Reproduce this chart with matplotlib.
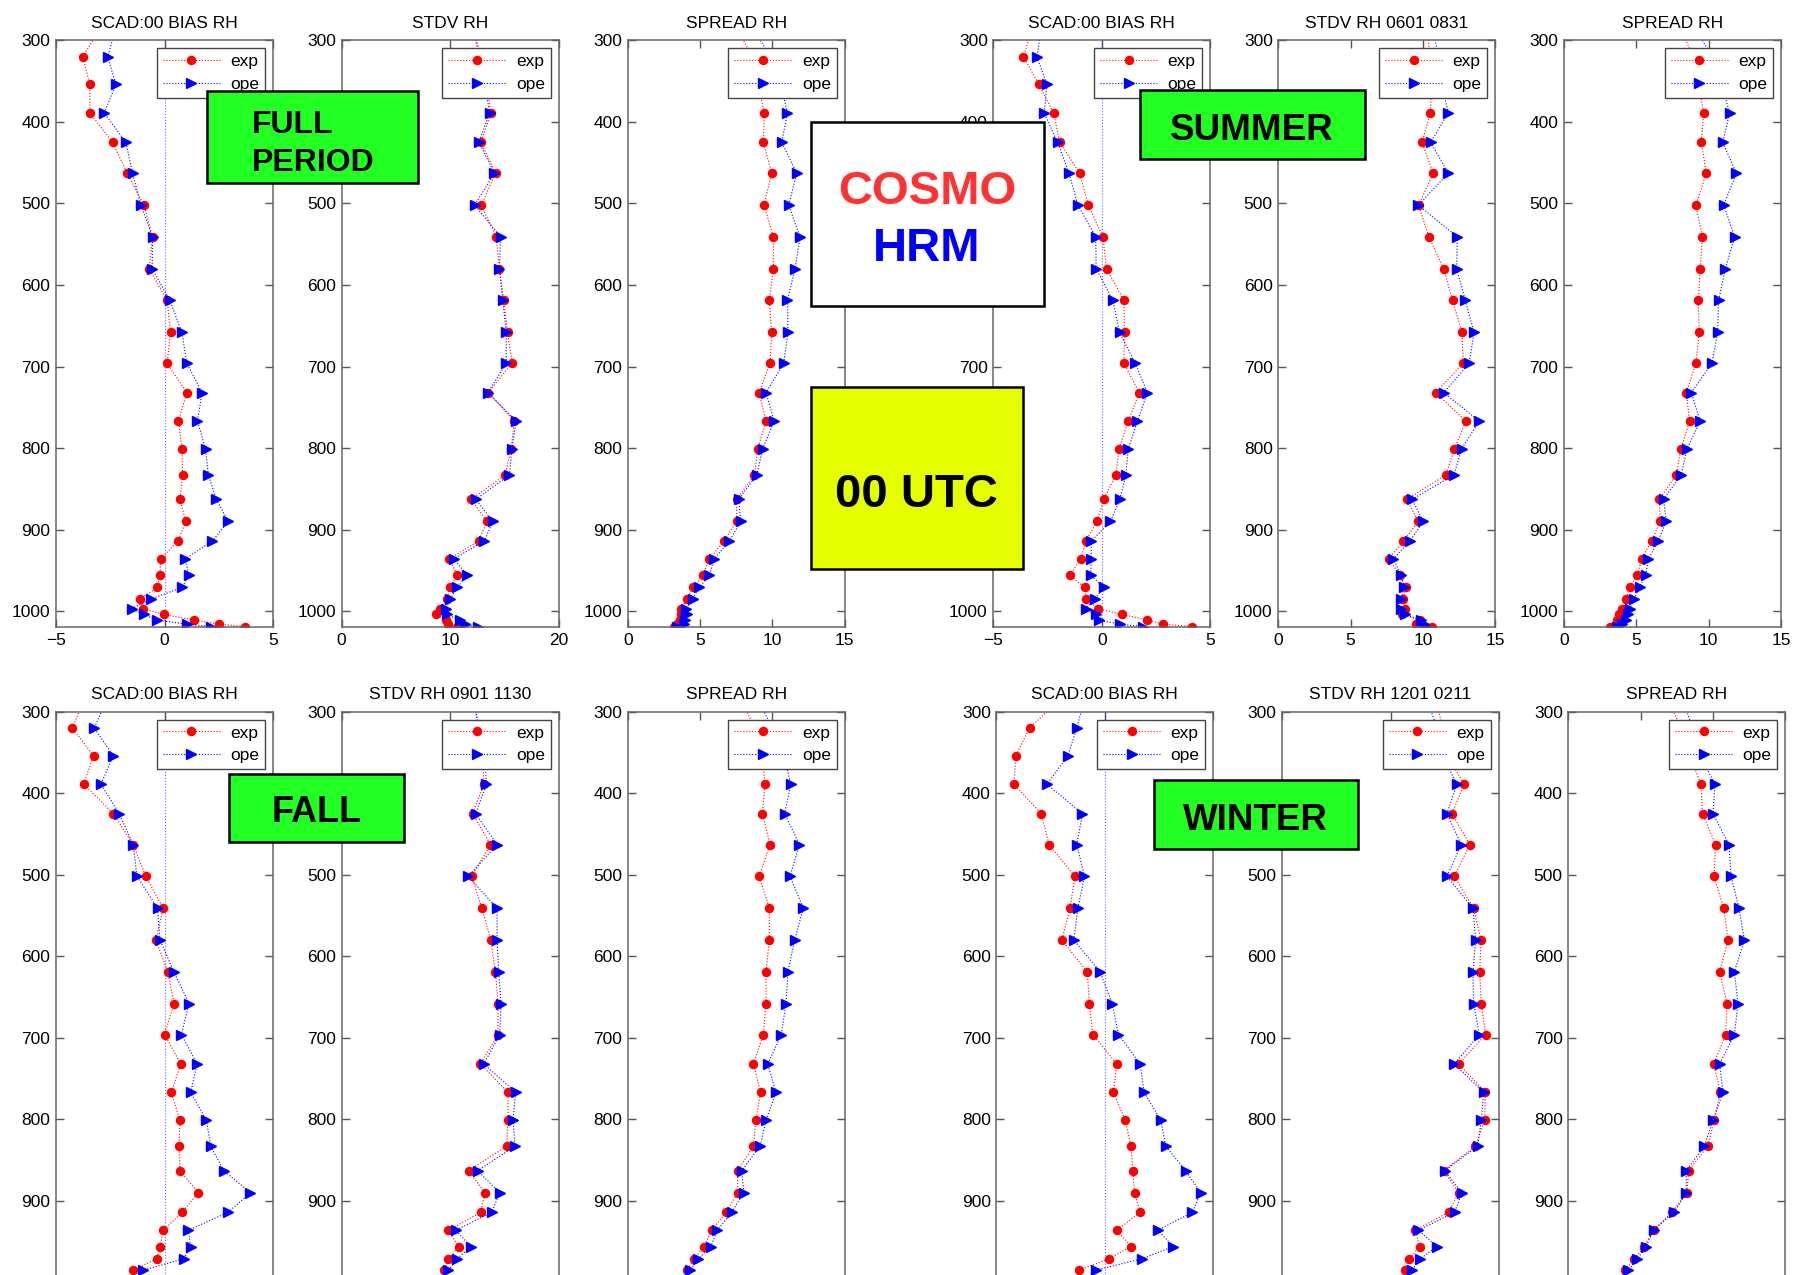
import matplotlib
matplotlib.use('Agg')
import matplotlib.pyplot as plt
from matplotlib.patches import Rectangle

plt.rcParams['font.family'] = ['Liberation Sans', 'DejaVu Sans']

# pressure levels (hPa); the first one is above the plotted range
plev = [285, 320, 354, 389, 425, 463, 502, 541, 580, 619, 658, 696, 732, 767,
        801, 833, 863, 890, 914, 936, 956, 971, 985, 997, 1004, 1011, 1016, 1019]

# full period
bias_full_exp = [-2.95, -3.77, -3.44, -3.44, -2.39, -1.72, -0.95, -0.55, -0.71, 0.12, 0.28, 0.12, 1.03, 0.64,
                 0.81, 0.83, 0.71, 0.98, 0.63, -0.18, -0.21, -0.34, -1.12, -1.0, -0.03, 1.36, 2.53, 3.71]
bias_full_ope = [-2.24, -2.62, -2.24, -2.78, -1.78, -1.47, -1.09, -0.55, -0.57, 0.25, 0.80, 1.03, 1.73, 1.52,
                 1.89, 2.02, 2.39, 2.94, 2.21, 0.94, 1.13, 0.80, -0.60, -1.52, -0.95, -0.34, 1.03, 2.15]
stdv_full_exp = [12.2, 12.8, 13.3, 13.8, 12.85, 14.2, 12.88, 14.26, 14.56, 14.96, 15.3, 15.73, 13.5, 15.94,
                 15.63, 15.08, 11.94, 13.4, 12.64, 9.92, 10.69, 9.98, 9.74, 9.1, 8.7, 9.59, 9.77, 10.6]
stdv_full_ope = [12.1, 12.7, 13.2, 13.65, 12.67, 14.1, 12.27, 14.66, 14.56, 14.87, 15.18, 15.18, 13.5, 16.1,
                 15.7, 15.48, 12.37, 13.95, 13.16, 10.35, 11.6, 10.66, 10.03, 9.59, 9.68, 10.9, 11.36, 12.58]
sprd_full_exp = [7.55, 8.6, 9.0, 9.45, 9.38, 9.95, 9.42, 10.07, 10.07, 9.79, 9.95, 9.84, 9.08, 9.56,
                 8.99, 8.76, 7.53, 7.53, 6.66, 5.65, 5.18, 4.54, 4.08, 3.69, 3.66, 3.62, 3.43, 3.2]
sprd_full_ope = [8.6, 9.9, 10.6, 11.04, 10.65, 11.68, 11.13, 11.91, 11.57, 11.04, 11.08, 10.78, 9.56, 10.12,
                 9.33, 8.92, 7.67, 7.81, 7.03, 5.97, 5.65, 4.95, 4.49, 4.03, 4.08, 3.96, 3.89, 3.39]

# summer 0601-0831
bias_sum_exp = [-3.2, -3.61, -2.9, -2.22, -1.94, -1.02, -0.62, 0.05, 0.22, 1.02, 1.05, 1.02, 1.73, 1.22,
                0.79, 0.65, 0.09, -0.22, -0.74, -0.97, -1.48, -0.79, -0.74, -0.19, 0.94, 2.10, 2.84, 4.15]
bias_sum_ope = [-2.78, -2.99, -2.53, -2.65, -2.04, -1.51, -1.10, -0.28, -0.26, 0.51, 0.82, 1.54, 2.10, 1.64,
                1.22, 1.11, 0.83, 0.40, -0.48, -0.49, -0.51, 0.09, -0.32, -0.74, -0.28, -0.14, 0.83, 1.91]
stdv_sum_exp = [10.27, 10.5, 10.6, 10.51, 9.93, 10.71, 9.7, 10.41, 11.43, 12.05, 12.7, 12.79, 10.88, 12.97,
                12.17, 11.59, 8.87, 9.68, 8.64, 7.63, 8.41, 8.8, 8.64, 8.73, 8.55, 9.79, 9.52, 10.6]
stdv_sum_ope = [10.65, 11.1, 11.3, 11.75, 10.53, 11.75, 9.68, 12.37, 12.33, 12.93, 13.53, 13.2, 11.43, 13.89,
                12.67, 12.14, 9.24, 10.02, 9.1, 7.95, 8.5, 8.69, 8.5, 8.5, 8.76, 9.84, 10.07, 10.21]
sprd_sum_exp = [8.1, 8.9, 9.3, 9.65, 9.49, 9.84, 9.12, 9.56, 9.42, 9.28, 9.35, 9.12, 8.45, 8.68,
                8.08, 7.76, 6.58, 6.65, 6.05, 5.36, 5.08, 4.53, 4.3, 4.0, 3.77, 3.65, 3.56, 3.19]
sprd_sum_ope = [9.0, 10.3, 10.9, 11.45, 10.97, 11.92, 11.04, 11.8, 11.15, 10.69, 10.62, 10.23, 8.8, 9.42,
                8.5, 8.1, 6.88, 7.07, 6.51, 5.84, 5.64, 5.22, 4.85, 4.53, 4.39, 4.3, 4.02, 3.65]

# fall 0901-1130 (down to 985 hPa)
bias_fall_exp = [-3.7, -4.25, -3.27, -3.73, -2.36, -1.44, -0.86, -0.06, -0.4, 0.15, 0.44, 0.0, 0.75, 0.31,
                 0.71, 0.67, 0.71, 1.56, 0.81, -0.05, -0.21, -0.35, -1.44]
bias_fall_ope = [-2.65, -3.24, -2.36, -2.93, -2.09, -1.44, -1.27, -0.32, -0.21, 0.43, 1.13, 0.78, 1.5, 1.21,
                 1.93, 2.13, 2.73, 3.96, 2.93, 1.1, 1.2, 0.89, -0.98]
stdv_fall_exp = [12.15, 12.6, 13.0, 13.1, 12.06, 13.71, 11.97, 12.92, 13.74, 14.17, 14.41, 14.41, 12.79, 15.33,
                 15.33, 15.21, 11.69, 13.19, 12.82, 9.83, 10.78, 9.83, 9.47]
stdv_fall_ope = [12.1, 12.7, 13.2, 13.34, 12.34, 14.32, 11.66, 14.32, 14.32, 14.47, 14.69, 14.56, 13.1, 16.03,
                 15.79, 15.97, 12.52, 14.56, 13.83, 10.5, 11.91, 10.66, 9.83]
sprd_fall_exp = [7.8, 8.8, 9.3, 9.49, 9.31, 9.84, 9.08, 9.79, 9.79, 9.56, 9.56, 9.38, 8.69, 9.19,
                 8.85, 8.69, 7.6, 7.6, 6.8, 5.81, 5.28, 4.61, 4.08]
sprd_fall_ope = [9.0, 10.0, 10.8, 11.27, 10.85, 11.87, 11.22, 12.14, 11.54, 11.08, 10.94, 10.62, 9.68, 10.25,
                 9.56, 9.15, 7.88, 8.02, 7.19, 6.2, 5.74, 4.88, 4.31]

# winter 1201-0211 (down to 985 hPa)
bias_win_exp = [-2.07, -3.47, -4.1, -4.18, -2.93, -2.57, -1.38, -1.6, -1.98, -0.81, -0.71, -0.55, 0.55, 0.4,
                0.94, 1.21, 1.29, 1.37, 1.63, 0.55, 1.21, 0.2, -1.2]
bias_win_ope = [-0.94, -1.29, -1.7, -2.67, -1.03, -1.29, -0.94, -1.24, -1.43, -0.22, 0.34, 0.63, 1.63, 1.81,
                2.58, 2.81, 3.73, 4.42, 4.04, 2.44, 3.16, 1.71, -0.41]
stdv_win_exp = [14.2, 14.8, 15.2, 16.8, 15.66, 17.32, 15.88, 17.66, 18.34, 18.22, 18.37, 18.77, 16.28, 18.74,
                18.68, 17.82, 14.89, 16.28, 15.35, 12.28, 12.68, 11.75, 11.35]
stdv_win_ope = [13.35, 14.3, 14.8, 16.12, 15.2, 16.52, 15.2, 17.6, 17.85, 17.6, 17.66, 18.18, 15.88, 18.58,
                18.37, 18.03, 14.98, 16.58, 15.91, 12.58, 14.28, 12.74, 11.97]
sprd_win_exp = [6.87, 7.8, 8.4, 9.17, 9.28, 10.18, 10.07, 10.74, 11.04, 10.46, 10.97, 10.88, 10.05, 10.51,
                10.09, 9.63, 8.31, 8.2, 7.16, 5.89, 5.24, 4.57, 3.93]
sprd_win_ope = [7.9, 8.6, 9.1, 10.14, 10.0, 11.11, 11.25, 11.8, 12.17, 11.48, 11.73, 11.48, 10.46, 10.69,
                10.0, 9.4, 8.15, 8.15, 7.32, 5.89, 5.38, 4.78, 4.16]

W, H = 1796, 1275
fig = plt.figure(figsize=(W / 100, H / 100), dpi=100)


def pix_axes(x0, y0, w, h):
    # axes placed by pixel box, y measured from the top
    return fig.add_axes([x0 / W, 1 - (y0 + h) / H, w / W, h / H])


# (left px, top px, title, xlim, xticks, exp, ope, draw zero line)
panels = [
    (56, 40.4, 'SCAD:00 BIAS RH', (-5, 5), [-5, 0, 5], bias_full_exp, bias_full_ope, True),
    (341.5, 40.4, 'STDV RH', (0, 20), [0, 10, 20], stdv_full_exp, stdv_full_ope, False),
    (627.7, 40.4, 'SPREAD RH', (0, 15), [0, 5, 10, 15], sprd_full_exp, sprd_full_ope, False),
    (993.3, 40.4, 'SCAD:00 BIAS RH', (-5, 5), [-5, 0, 5], bias_sum_exp, bias_sum_ope, True),
    (1278.3, 40.4, 'STDV RH 0601 0831', (0, 15), [0, 5, 10, 15], stdv_sum_exp, stdv_sum_ope, False),
    (1564, 40.4, 'SPREAD RH', (0, 15), [0, 5, 10, 15], sprd_sum_exp, sprd_sum_ope, False),
    (56, 711.7, 'SCAD:00 BIAS RH', (-5, 5), [-5, 0, 5], bias_fall_exp, bias_fall_ope, True),
    (341.7, 711.7, 'STDV RH 0901 1130', (0, 20), [0, 10, 20], stdv_fall_exp, stdv_fall_ope, False),
    (627.7, 711.7, 'SPREAD RH', (0, 15), [0, 5, 10, 15], sprd_fall_exp, sprd_fall_ope, False),
    (996.3, 711.7, 'SCAD:00 BIAS RH', (-5, 5), [-5, 0, 5], bias_win_exp, bias_win_ope, True),
    (1282, 711.7, 'STDV RH 1201 0211', (0, 20), [0, 10, 20], stdv_win_exp, stdv_win_ope, False),
    (1568.3, 711.7, 'SPREAD RH', (0, 15), [0, 5, 10, 15], sprd_win_exp, sprd_win_ope, False),
]

for x0, y0, title, xlim, xticks, exp, ope, zero in panels:
    top_row = y0 < 100
    ax = pix_axes(x0, y0, 217, 587)
    if zero:
        ax.axvline(0, color='blue', ls=':', lw=0.8, alpha=0.6)
    ax.plot(exp, plev[:len(exp)], color='red', ls=':', lw=0.8, marker='o', ms=5.8,
            mfc='red', mec='red', label='exp')
    ax.plot(ope, plev[:len(ope)], color='blue', ls=':', lw=0.8, marker='>', ms=7,
            mfc='blue', mec='blue', label='ope')
    ax.set_xlim(xlim)
    ax.set_xticks(xticks)
    ax.set_ylim(1020, 300)
    # bottom row runs past the lower edge of the page
    ax.set_yticks(range(300, 1001 if top_row else 901, 100))
    ax.tick_params(direction='in', top=True, right=True, length=6, width=1,
                   color='#555555', labelsize=12.5, pad=4, labelbottom=top_row)
    for s in ax.spines.values():
        s.set_color('#666666')
        s.set_linewidth(1.1)
    ax.set_title(title, fontsize=12.5, pad=9)
    leg = ax.legend(loc='upper right', fontsize=12.5, numpoints=1, handlelength=3.3,
                    handletextpad=0.6, labelspacing=0.42, borderpad=0.34, borderaxespad=0.45,
                    fancybox=False, framealpha=1)
    leg.get_frame().set_edgecolor('#444444')
    leg.get_frame().set_linewidth(1.0)


def label_box(x0, y0, x1, y1, color):
    fig.add_artist(Rectangle((x0 / W, 1 - y1 / H), (x1 - x0) / W, (y1 - y0) / H,
                             transform=fig.transFigure, facecolor=color,
                             edgecolor='black', linewidth=1.8, zorder=10))


def label_text(x, y, s, size, color='black', **kw):
    fig.text(x / W, 1 - y / H, s, fontsize=size, fontweight='bold', color=color,
             va='center', zorder=11, **kw)


green = '#22ff22'
label_box(206.5, 90.5, 418, 182.5, green)
label_text(252, 144, 'FULL\nPERIOD', 23, ha='left', linespacing=1.32)

label_box(811, 122.5, 1043.5, 305.5, 'white')
label_text(927, 192, 'COSMO', 34, color='#ff3333', ha='center')
label_text(927, 249, 'HRM', 34, color='#0000ff', ha='center')

label_box(811, 386.5, 1022.5, 569, '#e5ff00')
label_text(916.5, 495, '00 UTC', 34, ha='center')

label_box(1139.5, 90.5, 1365, 158.5, green)
label_text(1252, 130, 'SUMMER', 26.5, ha='center')

label_box(229, 773.5, 404, 841.5, green)
label_text(316.5, 813, 'FALL', 26, ha='center')

label_box(1153.5, 780, 1358, 848.5, green)
label_text(1255.5, 820, 'WINTER', 26.5, ha='center')

fig.savefig('out.png', dpi=100)
